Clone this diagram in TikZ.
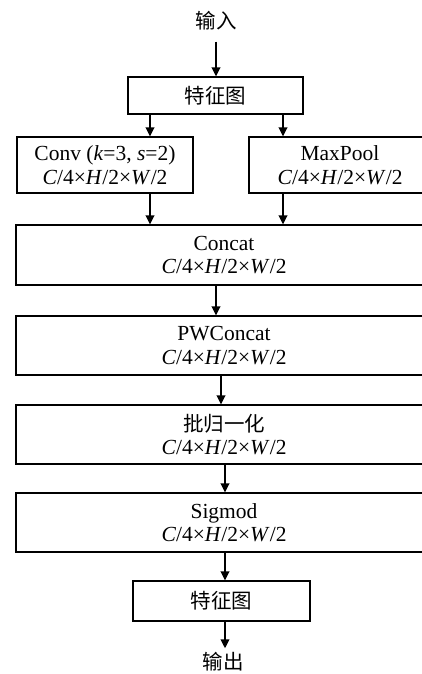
\documentclass[tikz,border=0pt]{standalone}
\usepackage{fontspec}
\setmainfont{Liberation Serif}
\newfontfamily\cjk{Noto Sans CJK SC}
\usetikzlibrary{arrows.meta}
\newcommand{\dims}{\textit{C}/4×\textit{H}/2×\textit{W}/2}
\begin{document}
\begin{tikzpicture}[x=1pt,y=-1pt,
  box/.style={draw,line width=1.2pt,inner sep=0pt,align=center,font=\fontsize{21.5}{23.5}\selectfont},
  cjkbox/.style={box,font=\fontsize{20.5}{23}\selectfont\cjk},
  lbl/.style={inner xsep=0pt,inner ysep=11pt,font=\fontsize{20.5}{23}\selectfont\cjk},
  arr/.style={line width=2pt,-{Triangle[width=8.5pt,length=9pt]}}]
\useasboundingbox (0,0) rectangle (422,674);
\clip (0,0) rectangle (422,674);
\node[lbl] (in) at (216,21) {输入};
\node[cjkbox,minimum width=175pt,minimum height=37pt] (f1) at (215.5,95.5) {特征图};
\node[box,minimum width=176pt,minimum height=56pt] (conv) at (105,165) {Conv (\textit{k}=3, \textit{s}=2)\\\dims};
\node[box,minimum width=182pt,minimum height=56pt] (mp) at (340,165) {MaxPool\\\dims};
\node[box,minimum width=416pt,minimum height=60pt] (cat) at (224,255) {Concat\\\dims};
\node[box,minimum width=416pt,minimum height=59pt] (pw) at (224,345.5) {PWConcat\\\dims};
\node[box,minimum width=416pt,minimum height=59pt] (bn) at (224,434.5) {{\fontsize{20.5}{23}\selectfont\cjk 批归一化}\\\dims};
\node[box,minimum width=416pt,minimum height=59pt] (sig) at (224,522.5) {Sigmod\\\dims};
\node[cjkbox,minimum width=177pt,minimum height=40pt] (f2) at (221.5,601) {特征图};
\node[lbl,inner ysep=4pt] (out) at (223,662) {输出};
\draw[arr] (in.south -| 216,0) -- (f1.north -| 216,0);
\draw[arr] (f1.south -| 150,0) -- (conv.north -| 150,0);
\draw[arr] (f1.south -| 283,0) -- (mp.north -| 283,0);
\draw[arr] (conv.south -| 150,0) -- (cat.north -| 150,0);
\draw[arr] (mp.south -| 283,0) -- (cat.north -| 283,0);
\draw[arr] (cat.south -| 216,0) -- (pw.north -| 216,0);
\draw[arr] (pw.south -| 221,0) -- (bn.north -| 221,0);
\draw[arr] (bn.south -| 225,0) -- (sig.north -| 225,0);
\draw[arr] (sig.south -| 225,0) -- (f2.north -| 225,0);
\draw[arr] (f2.south -| 225,0) -- (out.north -| 225,0);
\end{tikzpicture}
\end{document}
